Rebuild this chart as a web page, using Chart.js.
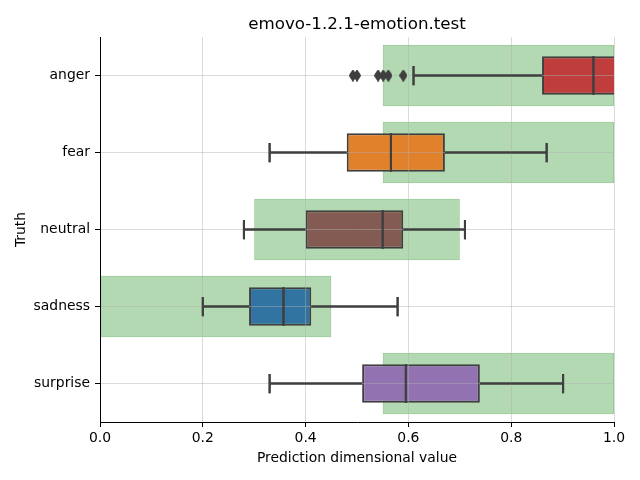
<!DOCTYPE html>
<html>
<head>
<meta charset="utf-8">
<script src="https://cdn.jsdelivr.net/npm/chart.js@4/dist/chart.umd.min.js"></script>
<style>
  body { margin: 0; background: #fff; }
  canvas { display: block; }
</style>
</head>
<body>
<canvas id="chart" width="640" height="480"></canvas>
<script>
const categories = ["anger", "fear", "neutral", "sadness", "surprise"];

// boxplot stats per category
const whiskerLow  = [0.61, 0.33, 0.28, 0.20, 0.33];
const q1          = [0.86, 0.48, 0.40, 0.29, 0.51];
const median      = [0.96, 0.566, 0.55, 0.357, 0.595];
const q3          = [1.02, 0.671, 0.59, 0.411, 0.739];
const whiskerHigh = [1.02, 0.869, 0.71, 0.579, 0.901];

// expected range (green bands)
const rangeLow  = [0.55, 0.55, 0.30, 0.00, 0.55];
const rangeHigh = [1.00, 1.00, 0.70, 0.45, 1.00];

// fliers
const outlierX   = [0.492, 0.500, 0.541, 0.551, 0.561, 0.590];
const outlierRow = ["anger", "anger", "anger", "anger", "anger", "anger"];

const xTicks = [0, 0.2, 0.4, 0.6, 0.8, 1.0];

const boxColors = ["#C03D3E", "#E1812C", "#845B53", "#3274A1", "#9372B2"];
const lineColor = "#3f3f3f";
const gridColor = "rgba(176,176,176,0.45)";

Chart.defaults.font.family = "DejaVu Sans";
Chart.defaults.color = "#000";

const rows = categories.map((c, i) => i);
const gap = { x: null, y: null };

const whiskers = rows.flatMap(i => [
  { x: whiskerLow[i], y: i }, { x: q1[i], y: i }, gap,
  { x: q3[i], y: i }, { x: whiskerHigh[i], y: i }, gap
]);
const caps = rows.flatMap(i => [
  { x: whiskerLow[i], y: i - 0.125 }, { x: whiskerLow[i], y: i + 0.125 }, gap,
  { x: whiskerHigh[i], y: i - 0.125 }, { x: whiskerHigh[i], y: i + 0.125 }, gap
]);
const medians = rows.flatMap(i => [
  { x: median[i], y: i - 0.25 }, { x: median[i], y: i + 0.25 }, gap
]);
const fliers = outlierX.map((v, k) => ({ x: v, y: categories.indexOf(outlierRow[k]) }));

// thin diamond marker
const diamond = document.createElement("canvas");
diamond.width = 8; diamond.height = 12;
(function () {
  const c = diamond.getContext("2d");
  c.fillStyle = lineColor;
  c.beginPath();
  c.moveTo(4, 0); c.lineTo(8, 6); c.lineTo(4, 12); c.lineTo(0, 6);
  c.closePath();
  c.fill();
})();

// grid sits above the boxes but below the whisker/median lines,
// so the line datasets get drawn again after the grid layer
const linesOnTop = {
  id: "linesOnTop",
  afterDraw(chart) {
    const { ctx, chartArea: a } = chart;
    ctx.save();
    ctx.beginPath();
    ctx.rect(a.left, a.top, a.right - a.left, a.bottom - a.top);
    ctx.clip();
    chart.getSortedVisibleDatasetMetas().slice().reverse().forEach(meta => {
      if (meta.type === "line") meta.controller.draw();
    });
    ctx.restore();
  }
};

const tickFont = { size: 13.9 };

new Chart(document.getElementById("chart"), {
  type: "bar",
  data: {
    datasets: [
      {
        type: "bar", label: "range",
        data: rows.map(i => ({ x: [rangeLow[i], rangeHigh[i]], y: i })),
        backgroundColor: "rgba(0,128,0,0.3)",
        borderColor: "rgba(0,128,0,0.42)",
        borderWidth: 1, borderSkipped: false,
        barPercentage: 0.8, categoryPercentage: 1, grouped: false,
        order: 6
      },
      {
        type: "bar", label: "box",
        data: rows.map(i => ({ x: [q1[i], q3[i]], y: i })),
        backgroundColor: boxColors,
        borderColor: lineColor,
        borderWidth: 2, borderSkipped: false,
        barPercentage: 0.5, categoryPercentage: 1, grouped: false,
        order: 5
      },
      {
        type: "line", label: "whiskers", data: whiskers,
        borderColor: lineColor, borderWidth: 2, pointRadius: 0,
        spanGaps: false, order: 4
      },
      {
        type: "line", label: "caps", data: caps,
        borderColor: lineColor, borderWidth: 2, pointRadius: 0,
        spanGaps: false, order: 3
      },
      {
        type: "line", label: "medians", data: medians,
        borderColor: lineColor, borderWidth: 2, pointRadius: 0,
        spanGaps: false, order: 2
      },
      {
        type: "line", label: "fliers", data: fliers,
        showLine: false, pointStyle: diamond, pointRadius: 4,
        order: 1
      }
    ]
  },
  plugins: [linesOnTop],
  options: {
    indexAxis: "y",
    responsive: false,
    animation: false,
    events: [],
    layout: { padding: { left: 0, right: 26, top: 0, bottom: 0 } },
    plugins: {
      legend: { display: false },
      tooltip: { enabled: false },
      title: {
        display: true,
        fullSize: false,
        text: "emovo-1.2.1-emotion.test",
        color: "#000",
        font: { size: 16.7, weight: "normal" },
        padding: { top: 15, bottom: 2 }
      }
    },
    scales: {
      x: {
        type: "linear", min: 0, max: 1,
        afterBuildTicks: s => { s.ticks = xTicks.map(v => ({ value: v })); },
        afterFit: s => { s.height = 58; },
        ticks: { font: tickFont, padding: 3, maxRotation: 0, callback: v => v.toFixed(1) },
        grid: { color: gridColor, z: 1, tickLength: 5, tickColor: "#000" },
        border: { display: true, color: "#000", width: 1, z: 2 },
        title: {
          display: true, text: "Prediction dimensional value",
          font: tickFont, padding: { top: 4, bottom: 13 }
        }
      },
      y: {
        type: "linear", min: -0.5, max: 4.5, reverse: true,
        offset: false,
        afterBuildTicks: s => { s.ticks = rows.map(i => ({ value: i })); },
        afterFit: s => { s.width = 100; },
        ticks: { font: tickFont, padding: 5, autoSkip: false, callback: v => categories[v] },
        grid: { color: gridColor, z: 1, tickLength: 5, tickColor: "#000", offset: false },
        border: { display: true, color: "#000", width: 1, z: 2 },
        title: {
          display: true, text: "Truth",
          font: tickFont, padding: { top: 13.5, bottom: 4 }
        }
      }
    }
  }
});
</script>
</body>
</html>
